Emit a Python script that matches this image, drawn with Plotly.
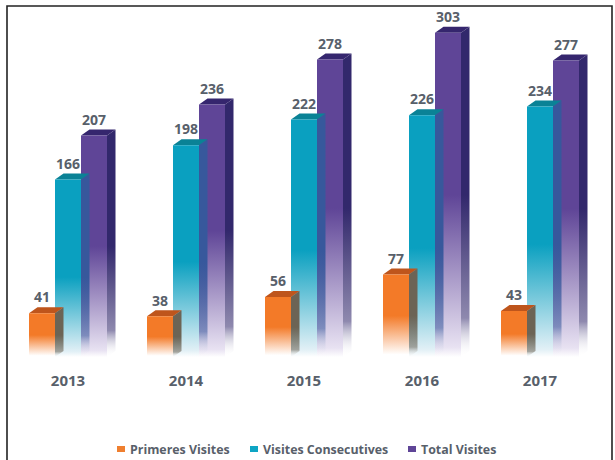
import plotly.graph_objects as go

years = ["2013", "2014", "2015", "2016", "2017"]
primeres = [41, 38, 56, 77, 43]
consecutives = [166, 198, 222, 226, 234]
total = [207, 236, 278, 303, 277]
names = ["Primeres Visites", "Visites Consecutives", "Total Visites"]

W, H = 615, 460
PX_L, PX_R, PX_BASE = 9, 599, 357
PX_PER_UNIT = 1.07
BAR_W = 26 / 118
DX, DY = 8.5 / 118, 6 / PX_PER_UNIT
FONT = "Open Sans"
TXT = "#58606a"

# drawn back to front: purple, teal, orange
series = [
    dict(vals=total, off=-39 / 118 + 2 * BAR_W, front="95,69,151", side="50,40,108", top="53,38,110", low="232,226,242", fade=0.50),
    dict(vals=consecutives, off=-39 / 118 + BAR_W, front="10,160,192", side="55,88,156", top="10,130,150", low="226,240,246", fade=0.45),
    dict(vals=primeres, off=-39 / 118, front="243,122,40", side="108,100,85", top="190,85,28", low="255,255,255", fade=0.50),
]


def scale(rgb, low, fade):
    return [[0, "rgb(255,255,255)"], [0.03, f"rgb({low})"], [fade, f"rgb({rgb})"], [1, f"rgb({rgb})"]]


def poly(xs, ys, grad=None, color=None):
    kw = dict(x=xs, y=ys, mode="lines", line=dict(width=0), fill="toself", showlegend=False, hoverinfo="skip")
    if grad is not None:
        kw["fillgradient"] = grad
    else:
        kw["fillcolor"] = color
    return go.Scatter(**kw)


fig = go.Figure()
for s in series:
    for i, v in enumerate(s["vals"]):
        x0 = i + s["off"]
        x1 = x0 + BAR_W
        # side face
        side_scale = [[0, "rgba(255,255,255,0)"], [0.12, f"rgba({s['side']},0.55)"], [s["fade"], f"rgb({s['side']})"], [1, f"rgb({s['side']})"]]
        fig.add_trace(poly([x1, x1 + DX, x1 + DX, x1, x1], [v, v + DY, DY, 0, v],
                           grad=dict(type="vertical", start=0, stop=v, colorscale=side_scale)))
        # top face
        fig.add_trace(poly([x0, x0 + DX, x1 + DX, x1, x0], [v, v + DY, v + DY, v, v], color=f"rgb({s['top']})"))
        # front face
        fig.add_trace(poly([x0, x1, x1, x0, x0], [0, 0, v, v, 0],
                           grad=dict(type="vertical", start=0, stop=v,
                                     colorscale=scale(s["front"], s["low"], s["fade"]))))
    fig.add_trace(go.Scatter(
        x=[i + s["off"] + BAR_W / 2 for i in range(len(years))],
        y=[v + 13.3 for v in s["vals"]],
        text=[str(v) for v in s["vals"]],
        mode="text", textposition="middle center",
        textfont=dict(family=FONT, size=14, color=TXT, weight="bold"),
        showlegend=False, hoverinfo="skip", cliponaxis=False))

shapes = [dict(type="rect", xref="paper", yref="paper", x0=7 / W, x1=612 / W, y0=-0.02, y1=1 - 6 / H,
               line=dict(color="#222222", width=1.6), fillcolor="rgba(0,0,0,0)", layer="below")]
annotations = []
legend_pos = [(117, 129, "#ef7f2f"), (250, 262, "#0ea5c4"), (408, 420, "#5f4597")]
for name, (mx, tx, col) in zip(names, legend_pos):
    shapes.append(dict(type="rect", xref="paper", yref="paper", x0=mx / W, x1=(mx + 8) / W,
                       y0=1 - 452 / H, y1=1 - 446 / H, line=dict(width=0), fillcolor=col))
    annotations.append(dict(text=f"<b>{name}</b>", xref="paper", yref="paper", x=tx / W, y=1 - 449 / H,
                            xanchor="left", yanchor="middle", showarrow=False, xshift=-1,
                            font=dict(family=FONT, size=12.4, color=TXT)))

fig.update_layout(
    width=W, height=H, margin=dict(l=0, r=0, t=0, b=0),
    paper_bgcolor="white", plot_bgcolor="white", showlegend=False,
    shapes=shapes, annotations=annotations,
    xaxis=dict(domain=[PX_L / W, PX_R / W], range=[-0.5, 4.5], tickmode="array",
               tickvals=list(range(5)), ticktext=years, showgrid=False, zeroline=False,
               showline=False, ticks="outside", ticklen=10, tickcolor="rgba(0,0,0,0)",
               tickfont=dict(family=FONT, size=15, color=TXT, weight="bold")),
    yaxis=dict(domain=[1 - PX_BASE / H, 1], range=[0, PX_BASE / PX_PER_UNIT], visible=False),
)
fig.write_html("out.html", config={"displayModeBar": False},
               post_script="document.body.style.margin='0';document.documentElement.style.overflow='hidden';")
